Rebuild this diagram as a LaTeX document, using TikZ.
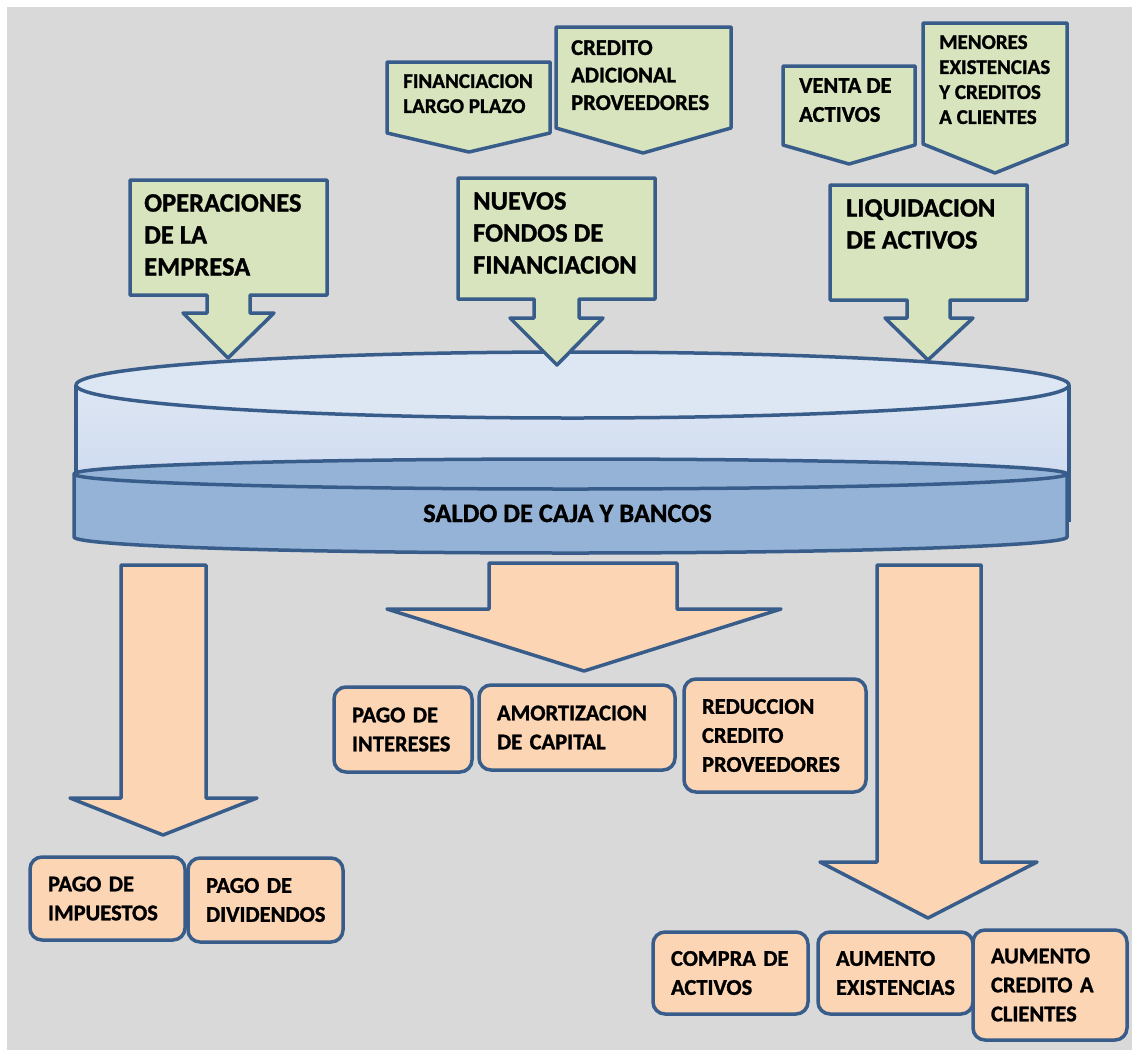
\documentclass[tikz,border=0pt]{standalone}
\usepackage{fontspec}
\setmainfont{Carlito}[BoldFeatures={FakeBold=1.2}]
\hyphenpenalty=10000

\definecolor{fondo}{HTML}{D9D9D9}
\definecolor{borde}{HTML}{385D8A}
\definecolor{verde}{HTML}{D7E4BD}
\definecolor{naranja}{HTML}{FCD5B5}
\definecolor{cajaclara}{HTML}{DDE6F3}
\definecolor{cajamedia}{HTML}{C6D4EE}
\definecolor{liquido}{HTML}{95B3D7}

\begin{document}
\begin{tikzpicture}[x=1pt,y=-1pt,line join=round,
    linea/.style={draw=borde,line width=3.5pt},
    flecha/.style={linea,fill=verde},
    salida/.style={linea,fill=naranja},
    caja/.style={salida,rounded corners=12pt,inner xsep=18pt,inner ysep=0pt,align=left,
        font=\fontsize{22.5}{29}\selectfont\bfseries},
    grande/.style={inner sep=0pt,anchor=north west,align=left,font=\fontsize{26.5}{32}\selectfont\bfseries},
    chico/.style={inner sep=0pt,anchor=north west,align=left,font=\fontsize{21}{25}\selectfont\bfseries}]
    \fill[white] (0,0) rectangle (1132,1050);
    \fill[fondo] (7,7) rectangle (1132,1050);

    % tambor de caja
    \shade[top color=cajaclara,bottom color=cajamedia] (76,385) -- (76,522) .. controls (76,531) and (298,538) .. (572.5,538) .. controls (847,538) and (1069,531) .. (1069,522) -- (1069,385) -- cycle;
    \draw[linea] (76,385) -- (76,522);
    \draw[linea] (1069,385) -- (1069,522);
    \filldraw[linea,fill=cajaclara] (572.5,385) ellipse [x radius=496.5,y radius=33];
    \filldraw[linea,fill=liquido] (74,474) -- (74,537) .. controls (74,546) and (296,553) .. (570.5,553) .. controls (845,553) and (1067,546) .. (1067,537) -- (1067,474) -- cycle;
    \filldraw[linea,fill=liquido] (570.5,474) ellipse [x radius=496.5,y radius=15];
    \node[anchor=base,inner sep=0pt,font=\fontsize{26.5}{32}\selectfont\bfseries] (saldo) at (567.5,522) {SALDO DE CAJA Y BANCOS};

    % entradas
    \filldraw[flecha] (387,62) -- (550,62) -- (550,133) -- (469,152) -- (387,133) -- cycle;
    \filldraw[flecha] (556,27) -- (731,27) -- (731,128) -- (643,153) -- (556,128) -- cycle;
    \filldraw[flecha] (783,66) -- (915,66) -- (915,145) -- (849,164) -- (783,145) -- cycle;
    \filldraw[flecha] (923,23) -- (1067,23) -- (1067,144) -- (995,173) -- (923,144) -- cycle;
    \node[chico] (largoplazo) at (403,74) {FINANCIACION\\LARGO PLAZO};
    \node[chico,font=\fontsize{22.5}{27.5}\selectfont\bfseries] (proveedores) at (571,40) {CREDITO\\ADICIONAL\\PROVEEDORES};
    \node[chico,font=\fontsize{22.5}{29}\selectfont\bfseries] (venta) at (799,78) {VENTA DE\\ACTIVOS};
    \node[chico] (menores) at (939,35) {MENORES\\EXISTENCIAS\\Y CREDITOS\\A CLIENTES};

    \filldraw[flecha] (130,180) -- (327,180) -- (327,295) -- (250,295) -- (250,313) -- (274,313) -- (228,358) -- (183,313) -- (207,313) -- (207,295) -- (130,295) -- cycle;
    \filldraw[flecha] (458,178) -- (655,178) -- (655,299) -- (579,299) -- (579,318) -- (603,318) -- (557,365) -- (510,318) -- (534,318) -- (534,299) -- (458,299) -- cycle;
    \filldraw[flecha] (830,185) -- (1027,185) -- (1027,300) -- (950,300) -- (950,318) -- (973,318) -- (928,360) -- (885,318) -- (907,318) -- (907,300) -- (830,300) -- cycle;
    \node[grande] (operaciones) at (144,194) {OPERACIONES\\DE LA\\EMPRESA};
    \node[grande] (nuevos) at (473,192) {NUEVOS\\FONDOS DE\\FINANCIACION};
    \node[grande] (liquidacion) at (846,199) {LIQUIDACION\\DE ACTIVOS};

    % salidas
    \filldraw[salida] (121,565) -- (206,565) -- (206,798) -- (257,798) -- (163,835) -- (70,798) -- (121,798) -- cycle;
    \filldraw[salida] (489,563) -- (677,563) -- (677,609) -- (781,609) -- (584,671) -- (387,609) -- (489,609) -- cycle;
    \filldraw[salida] (877,565) -- (981,565) -- (981,862) -- (1037,862) -- (928,918) -- (820,862) -- (877,862) -- cycle;

    \node[caja,text width=119pt,minimum height=83pt] (impuestos) at (107.5,898.5) {PAGO DE\\IMPUESTOS};
    \node[caja,text width=119pt,minimum height=84pt] (dividendos) at (265.5,900) {PAGO DE\\DIVIDENDOS};
    \node[caja,text width=102pt,minimum height=85pt] (intereses) at (403,729.5) {PAGO DE\\INTERESES};
    \node[caja,text width=160pt,minimum height=85pt] (amortizacion) at (577,727.5) {AMORTIZACION\\DE CAPITAL};
    \node[caja,text width=146pt,minimum height=113pt] (reduccion) at (775,735.5) {REDUCCION\\CREDITO\\PROVEEDORES};
    \node[caja,text width=119pt,minimum height=82pt] (compra) at (730.5,973) {COMPRA DE\\ACTIVOS};
    \node[caja,text width=119pt,minimum height=82pt] (existencias) at (895.5,973) {AUMENTO\\EXISTENCIAS};
    \node[caja,text width=118pt,minimum height=110pt] (clientes) at (1050,985) {AUMENTO\\CREDITO A\\CLIENTES};
\end{tikzpicture}
\end{document}
